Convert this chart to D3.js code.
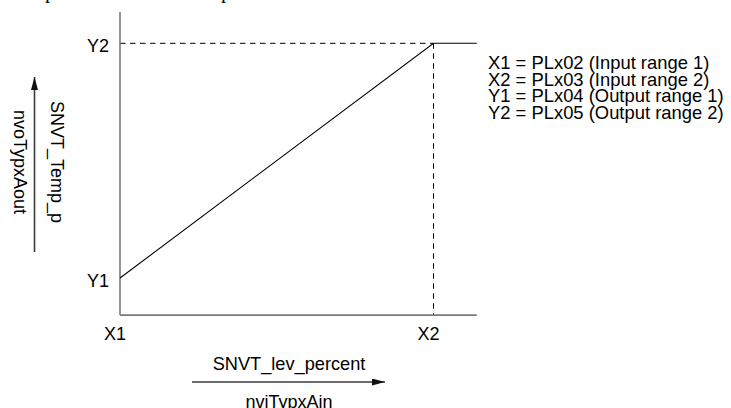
<!DOCTYPE html>
<html>
<head>
<meta charset="utf-8">
<script src="https://cdn.jsdelivr.net/npm/d3@7/dist/d3.min.js"></script>
<style>
  html, body { margin: 0; padding: 0; background: #ffffff; }
  svg { display: block; }
  text { font-family: "Liberation Sans", Arial, sans-serif; fill: #000; }
</style>
</head>
<body>
<svg id="chart" width="731" height="408"></svg>
<script>
// Scaling characteristic: input X1..X2 maps linearly onto output Y1..Y2,
// held at Y2 beyond X2.
const xTicks = [{ label: "X1", value: 0 }, { label: "X2", value: 1 }];
const yTicks = [{ label: "Y1", value: 0 }, { label: "Y2", value: 1 }];
const curveX = [0, 1, 1.138];
const curveY = [0, 1, 1];
const xAxisExtent = [0, 1.138];
const yAxisExtent = [-0.158, 1.133];
const xTitle = "SNVT_lev_percent";
const xVariable = "nviTypxAin";
const yTitle = "SNVT_Temp_p";
const yVariable = "nvoTypxAout";
const legendLines = [
  "X1 = PLx02 (Input range 1)",
  "X2 = PLx03 (Input range 2)",
  "Y1 = PLx04 (Output range 1)",
  "Y2 = PLx05 (Output range 2)"
];
// descenders of the caption line above the figure
const captionGlyphs = ["p", "p"];

const svg = d3.select("#chart");
const x = d3.scaleLinear().domain([0, 1]).range([120, 433.5]);
const y = d3.scaleLinear().domain([0, 1]).range([278, 43.3]);

const axisGrey = "#7a7a7a";
const arrowGrey = "#3a3a3a";

// arrowhead marker
const defs = svg.append("defs");
defs.append("marker")
  .attr("id", "head")
  .attr("viewBox", "0 0 13 7")
  .attr("refX", 13).attr("refY", 3.5)
  .attr("markerWidth", 13).attr("markerHeight", 7)
  .attr("markerUnits", "userSpaceOnUse")
  .attr("orient", "auto")
  .append("path").attr("d", "M0,0 L13,3.5 L0,7 Z").attr("fill", "#111");

// caption fragments cut by the top edge
svg.selectAll("text.caption").data(captionGlyphs).join("text")
  .attr("class", "caption")
  .attr("x", (d, i) => [45, 221][i])
  .attr("y", -2.5)
  .style("font-family", "'Liberation Serif', 'Times New Roman', serif")
  .style("font-size", "21px")
  .text(d => d);

// guide lines at Y2 and X2
svg.append("line")
  .attr("x1", x(0)).attr("x2", x(1))
  .attr("y1", y(1)).attr("y2", y(1))
  .attr("stroke", "#000").attr("stroke-width", 1)
  .attr("stroke-dasharray", "5.5,4.5");
svg.append("line")
  .attr("x1", x(1)).attr("x2", x(1))
  .attr("y1", y(1)).attr("y2", y(yAxisExtent[0]))
  .attr("stroke", "#000").attr("stroke-width", 1)
  .attr("stroke-dasharray", "5.5,4.5");

// axes
svg.append("line")
  .attr("x1", x(0)).attr("x2", x(0))
  .attr("y1", y(yAxisExtent[1])).attr("y2", y(yAxisExtent[0]))
  .attr("stroke", axisGrey).attr("stroke-width", 1.6);
svg.append("line")
  .attr("x1", x(xAxisExtent[0])).attr("x2", x(xAxisExtent[1]))
  .attr("y1", y(yAxisExtent[0])).attr("y2", y(yAxisExtent[0]))
  .attr("stroke", axisGrey).attr("stroke-width", 1.6);

// characteristic curve
const curve = curveX.map((v, i) => [v, curveY[i]]);
svg.append("path")
  .datum(curve)
  .attr("d", d3.line().x(d => x(d[0])).y(d => y(d[1])))
  .attr("fill", "none").attr("stroke", "#000").attr("stroke-width", 1.1);

// tick labels
svg.selectAll("text.ytick").data(yTicks).join("text")
  .attr("class", "ytick")
  .attr("x", x(0) - 11).attr("y", d => y(d.value) + 8.5)
  .attr("text-anchor", "end")
  .style("font-size", "18px")
  .text(d => d.label);
svg.selectAll("text.xtick").data(xTicks).join("text")
  .attr("class", "xtick")
  .attr("x", d => x(d.value) - 5).attr("y", y(yAxisExtent[0]) + 24.5)
  .attr("text-anchor", "middle")
  .style("font-size", "18px")
  .text(d => d.label);

// x axis title and direction arrow
const xMid = 289;
svg.append("text")
  .attr("x", xMid).attr("y", 369.5)
  .attr("text-anchor", "middle").style("font-size", "18.2px")
  .text(xTitle);
svg.append("line")
  .attr("x1", 192).attr("x2", 385).attr("y1", 382).attr("y2", 382)
  .attr("stroke", arrowGrey).attr("stroke-width", 1.6)
  .attr("marker-end", "url(#head)");
svg.append("text")
  .attr("x", xMid).attr("y", 408)
  .attr("text-anchor", "middle").style("font-size", "18px")
  .text(xVariable);

// y axis title and direction arrow
const yMid = 162;
svg.append("text")
  .attr("transform", `translate(51,${yMid}) rotate(90)`)
  .attr("text-anchor", "middle").style("font-size", "18px")
  .text(yTitle);
svg.append("line")
  .attr("x1", 34.5).attr("x2", 34.5).attr("y1", 252).attr("y2", 77)
  .attr("stroke", arrowGrey).attr("stroke-width", 1.6)
  .attr("marker-end", "url(#head)");
svg.append("text")
  .attr("transform", `translate(13.5,${yMid}) rotate(90)`)
  .attr("text-anchor", "middle").style("font-size", "18px")
  .text(yVariable);

// parameter legend
svg.selectAll("text.legend").data(legendLines).join("text")
  .attr("class", "legend")
  .attr("x", 488)
  .attr("y", (d, i) => 69 + i * 16.7)
  .style("font-size", "18.4px")
  .text(d => d);
</script>
</body>
</html>
